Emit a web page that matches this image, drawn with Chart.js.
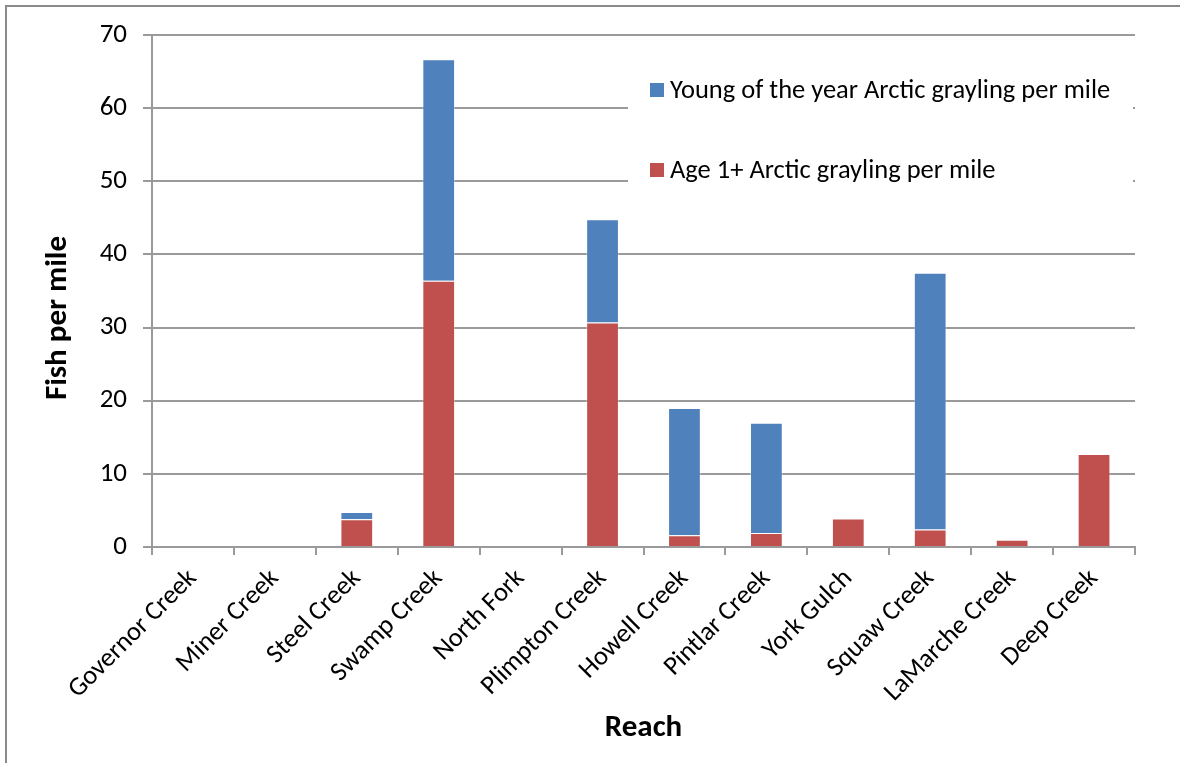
<!DOCTYPE html>
<html>
<head>
<meta charset="utf-8">
<title>Arctic grayling per mile by reach</title>
<script src="https://cdn.jsdelivr.net/npm/chart.js@4/dist/chart.umd.min.js"></script>
<style>
  html, body { margin: 0; padding: 0; background: #fff; }
  #wrap { width: 1180px; height: 763px; position: relative; }
  canvas { display: block; }
</style>
</head>
<body>
<div id="wrap"><canvas id="chart" width="1180" height="763"></canvas></div>
<script>
// Reaches surveyed
const reaches = [
  'Governor Creek', 'Miner Creek', 'Steel Creek', 'Swamp Creek', 'North Fork',
  'Plimpton Creek', 'Howell Creek', 'Pintlar Creek', 'York Gulch', 'Squaw Creek',
  'LaMarche Creek', 'Deep Creek'
];

// Age 1+ Arctic grayling per mile (bottom of each stack)
const age1PerMile = [0, 0, 3.8, 36.4, 0, 30.7, 1.6, 1.9, 3.9, 2.4, 1.0, 12.7];

// Young of the year Arctic grayling per mile (stacked on top)
const yoyPerMile = [0, 0, 1.0, 30.3, 0, 14.1, 17.4, 15.1, 0, 35.1, 0, 0];

// Value axis ticks
const yTicks = [0, 10, 20, 30, 40, 50, 60, 70];
const yTitle = 'Fish per mile';

const FONT = 'Carlito, Lato, "Liberation Sans", sans-serif';
const GRID = '#9a9a9a';
const RED = '#C0504D';
const BLUE = '#4F81BD';

// Outer frame, background and the value-axis title
const framePlugin = {
  id: 'frame',
  beforeDraw(chart) {
    const ctx = chart.ctx;
    ctx.save();
    ctx.fillStyle = '#fff';
    ctx.fillRect(0, 0, chart.width, chart.height);
    ctx.strokeStyle = '#8a8a8a';
    ctx.lineWidth = 2;
    ctx.strokeRect(6, 6, chart.width + 20, chart.height + 20);
    ctx.restore();
  },
  afterDraw(chart) {
    const ctx = chart.ctx;
    ctx.save();
    ctx.translate(58, 318);
    ctx.rotate(-Math.PI / 2);
    ctx.font = 'bold 31px ' + FONT;
    ctx.fillStyle = '#000';
    ctx.textAlign = 'center';
    ctx.textBaseline = 'middle';
    ctx.fillText(yTitle, 0, 0);
    ctx.restore();
  }
};

// Legend panel set inside the plot, top right
const insetLegend = {
  id: 'insetLegend',
  afterDraw(chart) {
    const ctx = chart.ctx;
    const area = chart.chartArea;
    ctx.save();
    // white panel behind the legend hides the gridlines it sits on
    ctx.fillStyle = '#fff';
    ctx.fillRect(628, 50, area.right - 2 - 628, 185);
    const items = chart.data.datasets.slice().reverse();
    const rows = [90, 170];
    ctx.font = '26.5px ' + FONT;
    ctx.textBaseline = 'middle';
    ctx.textAlign = 'left';
    items.forEach((ds, i) => {
      const y = rows[i];
      ctx.fillStyle = ds.backgroundColor;
      ctx.fillRect(650, y - 7, 14, 14);
      ctx.fillStyle = '#000';
      ctx.fillText(ds.label, 670, y + 1);
    });
    ctx.restore();
  }
};

new Chart(document.getElementById('chart'), {
  type: 'bar',
  data: {
    labels: reaches,
    datasets: [
      {
        label: 'Age 1+ Arctic grayling per mile',
        data: age1PerMile,
        backgroundColor: RED,
        borderColor: 'rgba(255,255,255,0.35)',
        borderWidth: 1,
        stack: 'fish'
      },
      {
        label: 'Young of the year Arctic grayling per mile',
        data: yoyPerMile,
        backgroundColor: BLUE,
        borderColor: 'rgba(255,255,255,0.35)',
        borderWidth: 1,
        stack: 'fish'
      }
    ]
  },
  options: {
    responsive: false,
    animation: false,
    devicePixelRatio: 1,
    layout: { padding: { top: 35, right: 45, left: 0, bottom: 0 } },
    categoryPercentage: 1.0,
    barPercentage: 0.4,
    plugins: {
      legend: { display: false },
      tooltip: { enabled: false }
    },
    scales: {
      x: {
        stacked: true,
        grid: {
          display: true,
          drawOnChartArea: false,
          drawTicks: true,
          tickLength: 8,
          color: GRID,
          lineWidth: 2,
          offset: true
        },
        border: { display: true, color: GRID, width: 2 },
        ticks: {
          minRotation: 45,
          maxRotation: 45,
          autoSkip: false,
          padding: 8,
          color: '#000',
          font: { family: FONT, size: 26.5 }
        },
        title: {
          display: true,
          text: 'Reach',
          color: '#000',
          font: { family: FONT, size: 31, weight: 'bold' },
          padding: { top: 0, bottom: 16 }
        },
        afterFit(scale) { scale.height = 216; }
      },
      y: {
        stacked: true,
        min: 0,
        max: 70,
        afterBuildTicks(scale) { scale.ticks = yTicks.map(v => ({ value: v })); },
        grid: {
          color: GRID,
          lineWidth: 2,
          drawTicks: true,
          tickLength: 9
        },
        border: { display: true, color: GRID, width: 2 },
        ticks: {
          padding: 16,
          color: '#000',
          font: { family: FONT, size: 27 }
        },
        title: { display: false },
        afterFit(scale) { scale.width = 152; }
      }
    }
  },
  plugins: [framePlugin, insetLegend]
});
</script>
</body>
</html>
